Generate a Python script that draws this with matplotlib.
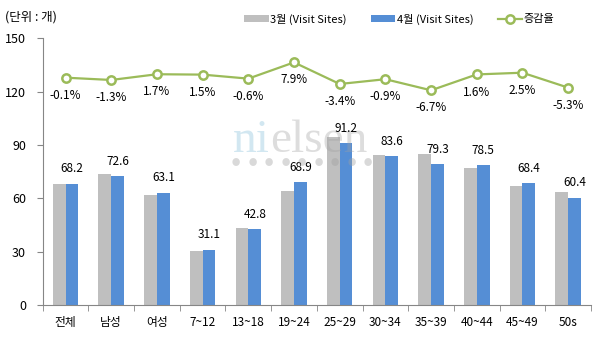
# -*- coding: utf-8 -*-
import numpy as np
from matplotlib import pyplot as plt

plt.rcParams['font.family'] = ['Noto Sans CJK KR', 'DejaVu Sans']

# 데이터
categorias = ["전체", "남성", "여성", "7~12", "13~18", "19~24", "25~29",
              "30~34", "35~39", "40~44", "45~49", "50s"]
marco = [68.3, 73.6, 62.0, 30.6, 43.1, 63.9, 94.4, 84.4, 85.0, 77.3, 66.7, 63.8]
abril = [68.2, 72.6, 63.1, 31.1, 42.8, 68.9, 91.2, 83.6, 79.3, 78.5, 68.4, 60.4]
taxa = [-0.1, -1.3, 1.7, 1.5, -0.6, 7.9, -3.4, -0.9, -6.7, 1.6, 2.5, -5.3]
yticks = [0, 30, 60, 90, 120, 150]

cinza = "#BFBFBF"
azul = "#558ED5"
verde = "#9BBB59"
eixo = "#868686"

fig = plt.figure(figsize=(5.94, 3.45), dpi=100)
ax = fig.add_axes([0.0719, 0.116, 0.923, 0.773])

x = np.arange(len(categorias))
w = 0.28
ax.bar(x - w/2, marco, w, color=cinza, label="3월 (Visit Sites)", zorder=2)
ax.bar(x + w/2, abril, w, color=azul, label="4월 (Visit Sites)", zorder=2)

# rótulos das barras de abril
for xi, v in zip(x, abril):
    ax.annotate(f"{v:.1f}", (xi + w/2, v), xytext=(0, 6), textcoords="offset points",
                ha="center", va="bottom", fontsize=8.5, color="black", zorder=5)

ax.set_xlim(-0.5, len(categorias) - 0.5)
ax.set_ylim(0, 150)
ax.set_yticks(yticks)
ax.set_xticks(x)
ax.set_xticklabels(categorias, fontsize=8.5)
ax.set_xticks(np.arange(-0.5, len(categorias) + 0.5, 1), minor=True)
ax.tick_params(axis="x", which="major", length=0, pad=8)
ax.tick_params(axis="x", which="minor", length=4, color=eixo)
ax.tick_params(axis="y", length=4, color=eixo, labelsize=9, pad=8)
for s in ["top", "right"]:
    ax.spines[s].set_visible(False)
for s in ["left", "bottom"]:
    ax.spines[s].set_color(eixo)

# linha de variação em eixo secundário oculto
ax2 = ax.twinx()
ax2.set_ylim(-119, 20.5)
ax2.axis("off")
ax2.plot(x, taxa, color=verde, lw=1.6, marker="o", markersize=6,
         markerfacecolor="white", markeredgecolor=verde, markeredgewidth=1.8,
         label="증감율", zorder=4)
for xi, t in zip(x, taxa):
    ax2.annotate(f"{t:.1f}%", (xi, t), xytext=(0, -8), textcoords="offset points",
                 ha="center", va="top", fontsize=8.5, color="black")

# marca d'água
t1 = fig.text(233 / 594, 1 - 152 / 345, "ni", fontsize=34, family="Liberation Serif",
              color="#9CCBE0", alpha=0.45, zorder=3, va="baseline")
ax.annotate("elsen", xy=(1, 0), xycoords=t1, va="bottom", ha="left", fontsize=34,
            family="Liberation Serif", color="#A0A0A0", alpha=0.35, zorder=3,
            annotation_clip=False)
for i in range(9):
    fig.text((236 + i * 16.5) / 594, 1 - 163 / 345, "●", fontsize=6, color="#A0A0A0",
             alpha=0.4, ha="center", va="center")

# legenda
h1, l1 = ax.get_legend_handles_labels()
h2, l2 = ax2.get_legend_handles_labels()
fig.legend(h1 + h2, l1 + l2, loc="center", bbox_to_anchor=(0.672, 0.945), ncol=3,
           frameon=False, fontsize=8, handlelength=2.2, handleheight=0.6,
           columnspacing=2.2, handletextpad=0.1)

fig.text(5 / 594, 1 - 17 / 345, "(단위 : 개)", fontsize=9, va="center", ha="left")

fig.savefig("out.png", dpi=100)
